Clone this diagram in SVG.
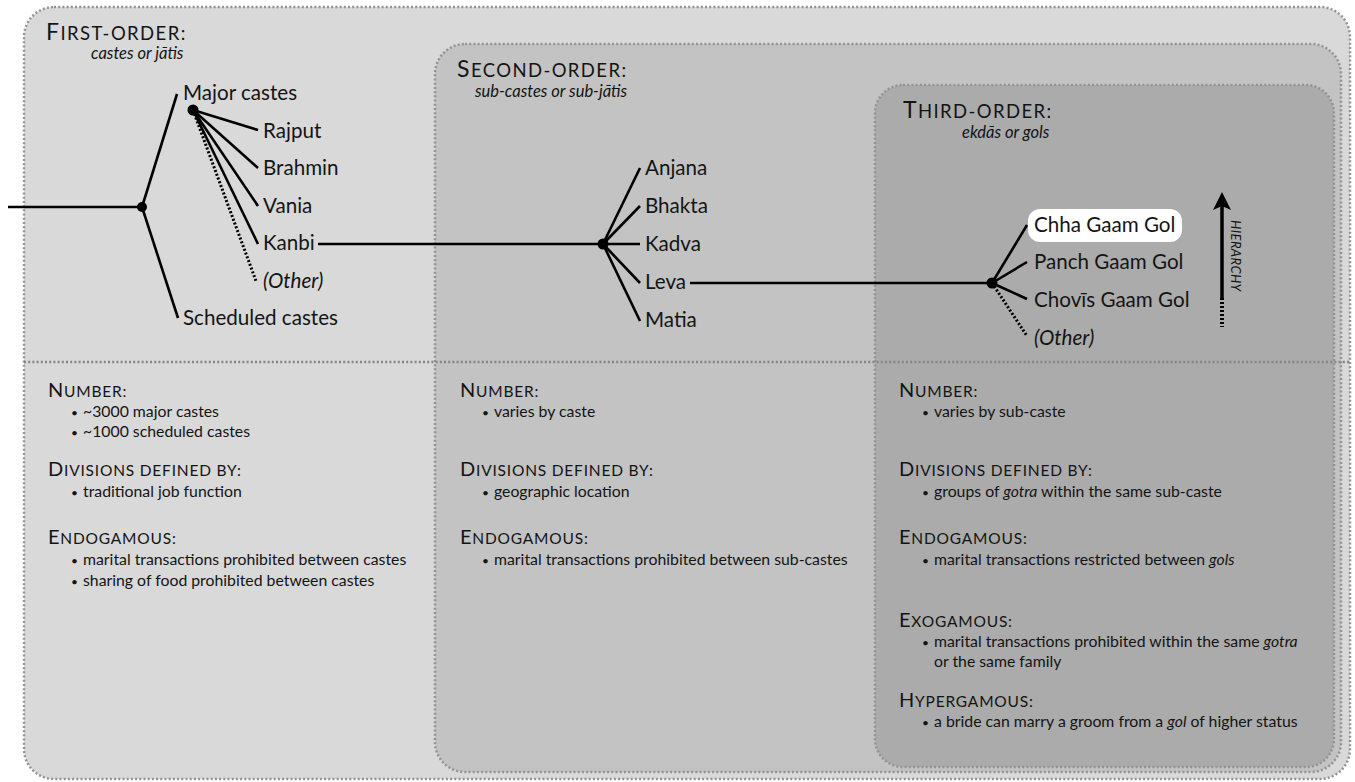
<svg xmlns="http://www.w3.org/2000/svg" width="1355" height="782" viewBox="0 0 1355 782">
<style>
.box{stroke:#939393;stroke-width:2.5;stroke-dasharray:2 2.2}
.sep{stroke:#858585;stroke-width:2.5;stroke-dasharray:2 2.2;fill:none}
text{font-family:Lato,"Open Sans",sans-serif;fill:#141414}
.hd{font-size:23px;letter-spacing:1.4px}
.hd tspan.sc{font-size:18.5px}
.sub{font-size:16.5px;font-style:italic}
.lbl{font-size:20.6px}
.it{font-style:italic}
.h2{font-size:20px;letter-spacing:0.8px}
.h2 tspan.sc{font-size:15.5px}
.li{font-size:15.8px}
.bl{font-size:12px}
.edge{stroke:#000;stroke-width:2.6;fill:none}
.dot{stroke:#000;stroke-width:3;stroke-dasharray:2 2;fill:none}
</style>
<g id="first-order">
<rect class="box" x="24" y="7" width="1326" height="772" rx="30" fill="#d9d9d9"/>
</g>
<g id="second-order">
<rect class="box" x="435" y="44" width="906" height="728" rx="30" fill="#c3c3c3"/>
</g>
<g id="third-order">
<rect class="box" x="875" y="85" width="459" height="682" rx="28" fill="#ababab"/>
</g>
<line class="sep" x1="24" y1="362" x2="1350" y2="362"/>

<g id="headings">
<text class="hd" x="46" y="40">F<tspan class="sc">IRST-ORDER:</tspan></text>
<text class="sub" x="91" y="59">castes or jātis</text>
<text class="hd" x="457" y="77">S<tspan class="sc">ECOND-ORDER:</tspan></text>
<text class="sub" x="475" y="97">sub-castes or sub-jātis</text>
<text class="hd" x="903" y="118">T<tspan class="sc">HIRD-ORDER:</tspan></text>
<text class="sub" x="962" y="138">ekdās or gols</text>
</g>

<g id="connectors">
<line class="edge" x1="8" y1="207" x2="142" y2="207"/>
<line class="edge" x1="142" y1="207" x2="177" y2="94"/>
<line class="edge" x1="142" y1="207" x2="178" y2="318"/>
<line class="edge" x1="193" y1="110" x2="258" y2="130"/>
<line class="edge" x1="193" y1="110" x2="258" y2="168"/>
<line class="edge" x1="193" y1="110" x2="258" y2="206"/>
<line class="edge" x1="193" y1="110" x2="258" y2="244"/>
<line class="dot" x1="193" y1="110" x2="256" y2="281"/>
<line class="edge" x1="318" y1="244" x2="603" y2="244"/>
<line class="edge" x1="603" y1="244" x2="640" y2="168"/>
<line class="edge" x1="603" y1="244" x2="640" y2="206"/>
<line class="edge" x1="603" y1="244" x2="640" y2="244"/>
<line class="edge" x1="603" y1="244" x2="640" y2="283"/>
<line class="edge" x1="603" y1="244" x2="640" y2="321"/>
<line class="edge" x1="690" y1="283" x2="992" y2="283"/>
<line class="edge" x1="992" y1="283" x2="1027" y2="225"/>
<line class="edge" x1="992" y1="283" x2="1027" y2="262"/>
<line class="edge" x1="992" y1="283" x2="1027" y2="299"/>
<line class="dot" x1="992" y1="283" x2="1027" y2="336"/>
<circle cx="142" cy="207" r="5"/>
<circle cx="193" cy="110" r="5.5"/>
<circle cx="603" cy="244" r="5.5"/>
<circle cx="992" cy="283" r="5.5"/>
</g>

<g id="n-major"><text class="lbl" x="183" y="100">Major castes</text></g>
<g id="n-scheduled"><text class="lbl" x="183" y="325">Scheduled castes</text></g>
<g id="n-rajput"><text class="lbl" x="263" y="138">Rajput</text></g>
<g id="n-brahmin"><text class="lbl" x="263" y="175">Brahmin</text></g>
<g id="n-vania"><text class="lbl" x="263" y="213">Vania</text></g>
<g id="n-kanbi"><text class="lbl" x="263" y="250">Kanbi</text></g>
<g id="n-other1"><text class="lbl it" x="263" y="288">(Other)</text></g>
<g id="n-anjana"><text class="lbl" x="645" y="175">Anjana</text></g>
<g id="n-bhakta"><text class="lbl" x="645" y="213">Bhakta</text></g>
<g id="n-kadva"><text class="lbl" x="645" y="251">Kadva</text></g>
<g id="n-leva"><text class="lbl" x="645" y="289">Leva</text></g>
<g id="n-matia"><text class="lbl" x="645" y="327">Matia</text></g>
<g id="n-chha"><rect x="1028" y="209" width="154" height="33" rx="12" fill="#ffffff"/><text class="lbl" x="1034" y="232">Chha Gaam Gol</text></g>
<g id="n-panch"><text class="lbl" x="1034" y="269">Panch Gaam Gol</text></g>
<g id="n-chovis"><text class="lbl" x="1034" y="307">Chovīs Gaam Gol</text></g>
<g id="n-other2"><text class="lbl it" x="1034" y="345">(Other)</text></g>

<g id="hierarchy">
<line x1="1222" y1="298" x2="1222" y2="205" stroke="#000" stroke-width="3.5"/>
<line x1="1222" y1="298" x2="1222" y2="327" stroke="#000" stroke-width="4" stroke-dasharray="2 2"/>
<polygon points="1222,192 1231,210 1222,206 1213,210" fill="#000"/>
<text transform="translate(1231,220) rotate(90)" font-size="13" font-style="italic" letter-spacing="0.4">HIERARCHY</text>
</g>

<g id="info-first">
<text class="h2" x="48" y="397">N<tspan class="sc">UMBER:</tspan></text>
<text class="li" x="83" y="417"><tspan class="bl" x="71">•</tspan><tspan x="83">~3000 major castes</tspan></text>
<text class="li" x="83" y="437"><tspan class="bl" x="71">•</tspan><tspan x="83">~1000 scheduled castes</tspan></text>
<text class="h2" x="48" y="476">D<tspan class="sc">IVISIONS DEFINED BY:</tspan></text>
<text class="li" x="83" y="497"><tspan class="bl" x="71">•</tspan><tspan x="83">traditional job function</tspan></text>
<text class="h2" x="48" y="544">E<tspan class="sc">NDOGAMOUS:</tspan></text>
<text class="li" x="83" y="565"><tspan class="bl" x="71">•</tspan><tspan x="83">marital transactions prohibited between castes</tspan></text>
<text class="li" x="83" y="586"><tspan class="bl" x="71">•</tspan><tspan x="83">sharing of food prohibited between castes</tspan></text>
</g>

<g id="info-second">
<text class="h2" x="460" y="397">N<tspan class="sc">UMBER:</tspan></text>
<text class="li" x="494" y="417"><tspan class="bl" x="482">•</tspan><tspan x="494">varies by caste</tspan></text>
<text class="h2" x="460" y="476">D<tspan class="sc">IVISIONS DEFINED BY:</tspan></text>
<text class="li" x="494" y="497"><tspan class="bl" x="482">•</tspan><tspan x="494">geographic location</tspan></text>
<text class="h2" x="460" y="544">E<tspan class="sc">NDOGAMOUS:</tspan></text>
<text class="li" x="494" y="565"><tspan class="bl" x="482">•</tspan><tspan x="494">marital transactions prohibited between sub-castes</tspan></text>
</g>

<g id="info-third">
<text class="h2" x="899" y="397">N<tspan class="sc">UMBER:</tspan></text>
<text class="li" x="934" y="417"><tspan class="bl" x="922">•</tspan><tspan x="934">varies by sub-caste</tspan></text>
<text class="h2" x="899" y="476">D<tspan class="sc">IVISIONS DEFINED BY:</tspan></text>
<text class="li" x="934" y="497"><tspan class="bl" x="922">•</tspan><tspan x="934">groups of <tspan class="it">gotra</tspan> within the same sub-caste</tspan></text>
<text class="h2" x="899" y="544">E<tspan class="sc">NDOGAMOUS:</tspan></text>
<text class="li" x="934" y="565"><tspan class="bl" x="922">•</tspan><tspan x="934">marital transactions restricted between <tspan class="it">gols</tspan></tspan></text>
<text class="h2" x="899" y="627">E<tspan class="sc">XOGAMOUS:</tspan></text>
<text class="li" x="934" y="647"><tspan class="bl" x="922">•</tspan><tspan x="934">marital transactions prohibited within the same <tspan class="it">gotra</tspan></tspan></text>
<text class="li" x="934" y="667">or the same family</text>
<text class="h2" x="899" y="707">H<tspan class="sc">YPERGAMOUS:</tspan></text>
<text class="li" x="934" y="727"><tspan class="bl" x="922">•</tspan><tspan x="934">a bride can marry a groom from a <tspan class="it">gol</tspan> of higher status</tspan></text>
</g>
</svg>
